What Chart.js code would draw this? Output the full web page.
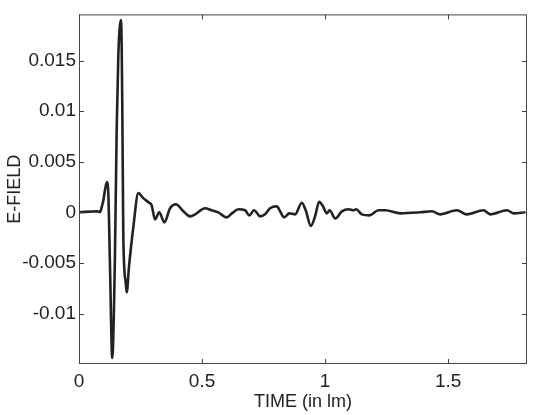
<!DOCTYPE html>
<html>
<head>
<meta charset="utf-8">
<script src="https://cdn.jsdelivr.net/npm/chart.js@4"></script>
<style>
  html, body { margin: 0; padding: 0; background: #fff; }
  #wrap { width: 540px; height: 415px; }
</style>
</head>
<body>
<div id="wrap"><canvas id="myChart"></canvas></div>
<script>
// time axis
const times = [
  0, 0.077, 0.085, 0.091, 0.099, 0.113, 0.119, 0.126, 0.135, 0.146,
  0.153, 0.160, 0.171, 0.176, 0.180, 0.190, 0.194, 0.203, 0.221, 0.241,
  0.261, 0.282, 0.295, 0.309, 0.326, 0.347, 0.370, 0.394, 0.424, 0.451,
  0.472, 0.512, 0.539, 0.566, 0.600, 0.621, 0.648, 0.675, 0.692, 0.711,
  0.736, 0.756, 0.776, 0.804, 0.817, 0.833, 0.855, 0.878, 0.905, 0.921,
  0.942, 0.959, 0.976, 0.991, 1.007, 1.018, 1.041, 1.068, 1.095, 1.115,
  1.126, 1.149, 1.180, 1.217, 1.244, 1.305, 1.386, 1.434, 1.467, 1.535,
  1.576, 1.643, 1.671, 1.739, 1.765, 1.813
];
const efield = [
  0, 0.0001, 0, 0.0004, 0.0012, 0.0030, 0.0019, -0.0054, -0.0144, -0.0044,
  0.0081, 0.0157, 0.0190, 0.0101, -0.0024, -0.0070, -0.0079, -0.0054, -0.0014, 0.0019,
  0.0014, 0.0010, 0.0007, -0.0007, 0, -0.0010, 0.0004, 0.0008, 0.0001, -0.0004,
  -0.0002, 0.0004, 0.0002, 0, -0.0005, -0.0001, 0.0003, 0.0002, -0.0003, 0.0002,
  -0.0004, -0.0002, 0.0004, 0.0006, 0.0001, -0.0005, -0.0001, -0.0002, 0.00095, 0.0002,
  -0.00135, -0.0004, 0.00105, 0.0006, -0.0001, 0.0002, -0.0006, 0.0001, 0.0003, 0.0002,
  0.0003, -0.0002, -0.0003, 0.0002, 0.0002, -0.0001, 0, 0.0001, -0.0002, 0.0002,
  -0.0002, 0.0002, -0.0002, 0.0002, -0.0001, 0
];
const xTicks = [0, 0.5, 1, 1.5];
const yTicks = [-0.01, -0.005, 0, 0.005, 0.01, 0.015];

const points = times.map((t, i) => ({ x: t, y: efield[i] }));

// frame round the plot with short inward ticks, like the matlab figure
const framePlugin = {
  id: 'frame',
  afterDraw(chart) {
    const { ctx, chartArea: a } = chart;
    const xs = chart.scales.x, ys = chart.scales.y;
    ctx.save();
    ctx.strokeStyle = '#444';
    ctx.lineWidth = 1;
    ctx.strokeRect(a.left + 0.5, a.top + 0.5, a.right - a.left - 1, a.bottom - a.top - 1);
    ctx.beginPath();
    xTicks.forEach(v => {
      const px = Math.round(xs.getPixelForValue(v)) + 0.5;
      ctx.moveTo(px, a.bottom); ctx.lineTo(px, a.bottom - 5);
      ctx.moveTo(px, a.top); ctx.lineTo(px, a.top + 5);
    });
    yTicks.forEach(v => {
      const py = Math.round(ys.getPixelForValue(v)) + 0.5;
      ctx.moveTo(a.left, py); ctx.lineTo(a.left + 5, py);
      ctx.moveTo(a.right, py); ctx.lineTo(a.right - 5, py);
    });
    ctx.stroke();
    ctx.restore();
  }
};

const ctx = document.getElementById('myChart').getContext('2d');
const myChart = new Chart(ctx, {
  type: 'scatter',
  data: {
    datasets: [{
      label: 'E-FIELD',
      data: points,
      showLine: true,
      borderColor: '#222',
      borderWidth: 2.6,
      pointRadius: 0,
      cubicInterpolationMode: 'monotone'
    }]
  },
  options: {
    responsive: true,
    maintainAspectRatio: false,
    animation: false,
    layout: { padding: { top: 14, right: 13, left: 0, bottom: 0 } },
    plugins: {
      legend: { display: false },
      tooltip: { enabled: false }
    },
    scales: {
      x: {
        type: 'linear',
        min: 0,
        max: 1.82,
        afterBuildTicks: s => { s.ticks = xTicks.map(v => ({ value: v })); },
        afterFit: s => { s.height = 51; },
        grid: { display: false, drawTicks: false },
        border: { display: false },
        ticks: {
          color: '#222',
          padding: 6,
          font: { size: 19, family: 'Liberation Sans' },
          callback: v => String(v)
        },
        title: {
          display: true,
          text: 'TIME (in lm)',
          color: '#222',
          font: { size: 18, family: 'Liberation Sans' },
          padding: { top: 2, bottom: 2 }
        }
      },
      y: {
        min: -0.01499,
        max: 0.01956,
        afterBuildTicks: s => { s.ticks = yTicks.map(v => ({ value: v })); },
        afterFit: s => { s.width = 79; },
        grid: { display: false, drawTicks: false },
        border: { display: false },
        ticks: {
          color: '#222',
          padding: 3,
          font: { size: 19, family: 'Liberation Sans' },
          callback: v => String(v)
        },
        title: {
          display: true,
          text: 'E-FIELD',
          color: '#222',
          font: { size: 18, family: 'Liberation Sans' },
          padding: { top: 4, bottom: 4 }
        }
      }
    }
  },
  plugins: [framePlugin]
});
</script>
</body>
</html>
